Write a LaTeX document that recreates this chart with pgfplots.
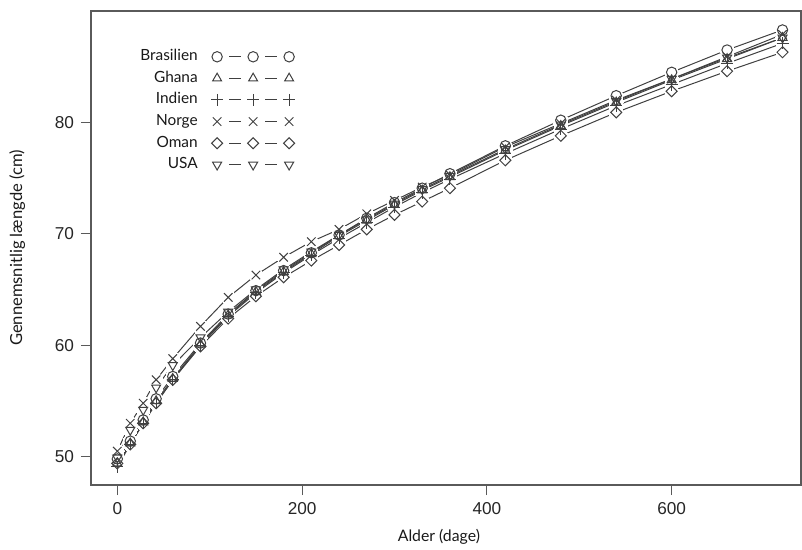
\documentclass[border=0pt]{standalone}
\usepackage{fontspec}
\setmainfont{Lato}
\newfontfamily\tickfont{Liberation Sans}
\usepackage{pgfplots}
\usepackage{pgfplotstable}
\pgfplotsset{compat=1.18}

\definecolor{ln}{HTML}{404040}
\definecolor{ax}{HTML}{5A5A5A}

% gennemsnitlig laengde (cm) efter alder (dage)
\pgfplotstableread{
dage bra  gha  ind  nor  oma  usa
0    49.8 49.4 49.1 50.5 49.4 49.9
14   51.4 51.2 51.1 53.0 51.1 52.4
28   53.3 53.1 53.0 54.8 53.0 54.2
42   55.2 55.0 54.8 56.9 54.8 56.2
60   57.2 57.0 56.9 58.8 56.9 58.2
90   60.2 60.1 60.0 61.7 59.9 60.7
120  62.8 62.7 62.6 64.3 62.4 63.0
150  64.9 64.8 64.7 66.3 64.4 65.0
180  66.7 66.6 66.5 67.9 66.1 66.8
210  68.3 68.2 68.1 69.3 67.6 68.4
240  69.9 69.8 69.6 70.4 69.0 69.9
270  71.4 71.2 71.0 71.8 70.4 71.3
300  72.8 72.6 72.4 73.0 71.7 72.7
330  74.1 73.9 73.7 74.2 72.9 74.0
360  75.4 75.1 74.9 75.3 74.1 75.2
420  77.9 77.5 77.2 77.8 76.6 77.6
480  80.2 79.7 79.4 79.9 78.8 79.8
540  82.4 81.8 81.5 82.0 80.9 81.9
600  84.5 83.8 83.4 83.9 82.8 83.9
660  86.5 85.7 85.3 85.9 84.6 85.8
720  88.3 87.6 87.1 87.9 86.3 87.6
}\laengde

\pgfplotsset{
  linje/.style={forget plot, no marks, ln, line width=0.5bp},
  luft/.style={forget plot, only marks, white, mark=*, mark size=3.4bp,
    mark options={draw=white, fill=white, line width=0pt}},
  mrk/.style={only marks, ln, mark size=2.6bp,
    mark options={draw=ln, fill=none, line width=0.5bp, solid, #1},
    legend image code/.code={
      \path (0bp,0bp);
      \draw[ln, line width=0.5bp] (15.5bp,0bp) -- (21.5bp,0bp) (33.5bp,0bp) -- (39.5bp,0bp);
      \draw[##1] plot coordinates {(9.5bp,0bp) (27.5bp,0bp) (45.5bp,0bp)};
    }},
  mrk/.default={},
}

\begin{document}
\begin{tikzpicture}
\useasboundingbox (-45.5bp,-32.5bp) rectangle (355.5bp,242.5bp);
\begin{axis}[
  scale only axis, width=355bp, height=237bp,
  xmin=-28.5, xmax=740, ymin=47.46, ymax=90,
  xtick={0,200,400,600}, ytick={50,60,70,80},
  tick pos=left, tick align=outside, major tick length=5bp,
  axis line style={ax, line width=0.6bp},
  tick style={ax, line width=0.6bp},
  /pgf/number format/assume math mode=true,
  tick label style={font=\tickfont\fontsize{8.6bp}{10bp}\selectfont, text=black!85},
  xlabel={Alder (dage)}, ylabel={Gennemsnitlig længde (cm)},
  every axis x label/.style={at={(axis description cs:0.49,-0.11)}, anchor=center,
    font=\fontsize{7.9bp}{9bp}\selectfont, text=black!90},
  every axis y label/.style={at={(axis description cs:-0.104,0.5)}, rotate=90, anchor=center,
    font=\fontsize{8.3bp}{9bp}\selectfont, text=black!90},
  legend plot pos=right,
  legend cell align=right,
  legend style={at={(axis description cs:0.069,0.919)}, anchor=north west,
    draw=none, fill=none, inner sep=0pt, row sep=3.8bp,
    font=\fontsize{7.7bp}{8bp}\selectfont, text=black!90,
    nodes={inner sep=0pt, text height=5.5bp, text depth=1.5bp}},
]
\addplot[linje] table[x=dage, y=bra] {\laengde};
\addplot[linje] table[x=dage, y=gha] {\laengde};
\addplot[linje] table[x=dage, y=ind] {\laengde};
\addplot[linje] table[x=dage, y=nor] {\laengde};
\addplot[linje] table[x=dage, y=oma] {\laengde};
\addplot[linje] table[x=dage, y=usa] {\laengde};

\addplot[luft] table[x=dage, y=bra] {\laengde};
\addplot[luft] table[x=dage, y=gha] {\laengde};
\addplot[luft] table[x=dage, y=ind] {\laengde};
\addplot[luft] table[x=dage, y=nor] {\laengde};
\addplot[luft] table[x=dage, y=oma] {\laengde};
\addplot[luft] table[x=dage, y=usa] {\laengde};

\addplot[mrk, mark=o] table[x=dage, y=bra] {\laengde};
\addplot[mrk, mark=triangle] table[x=dage, y=gha] {\laengde};
\addplot[mrk, mark=+, mark size=3bp] table[x=dage, y=ind] {\laengde};
\addplot[mrk, mark=x, mark size=3bp] table[x=dage, y=nor] {\laengde};
\addplot[mrk={rotate=45}, mark=square, mark size=1.95bp] table[x=dage, y=oma] {\laengde};
\addplot[mrk={rotate=180}, mark=triangle] table[x=dage, y=usa] {\laengde};
\legend{Brasilien, Ghana, Indien, Norge, Oman, USA}
\end{axis}
\end{tikzpicture}
\end{document}
